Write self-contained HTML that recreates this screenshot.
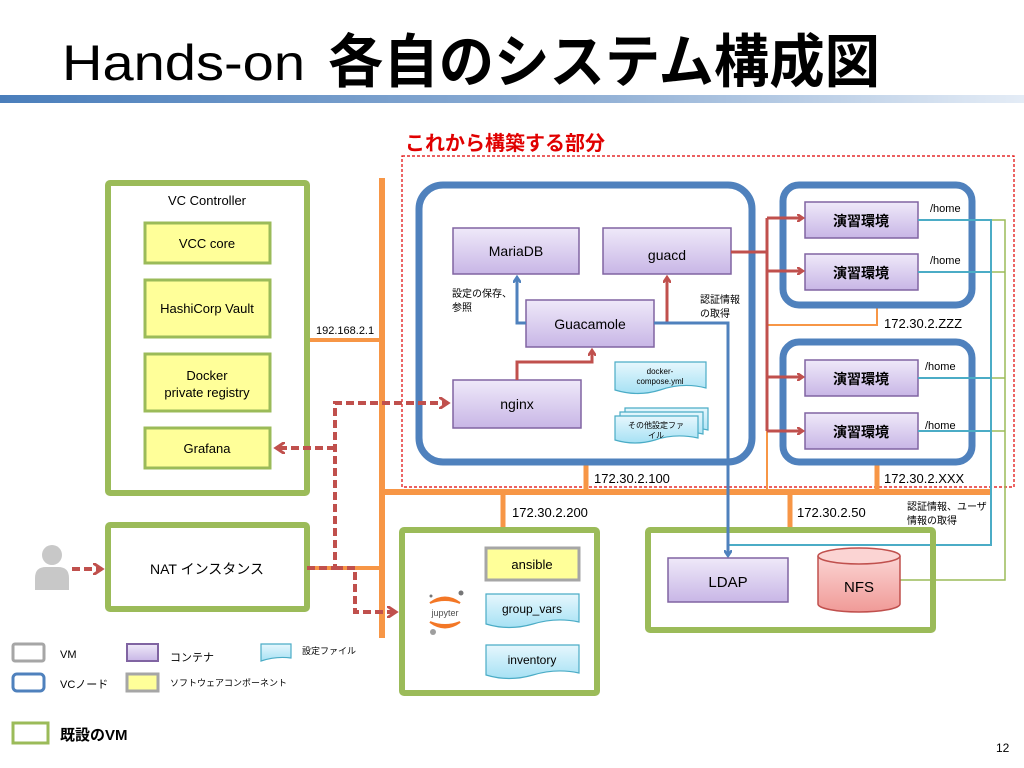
<!DOCTYPE html>
<html><head><meta charset="utf-8"><style>
html,body{margin:0;padding:0;background:#fff;}
svg{display:block;}
text{font-family:"Liberation Sans","Noto Sans CJK JP",sans-serif;}
</style></head><body>
<svg width="1024" height="768" viewBox="0 0 1024 768" xmlns="http://www.w3.org/2000/svg">
<defs>
<linearGradient id="bar" x1="0" x2="1" y1="0" y2="0"><stop offset="0" stop-color="#4a7ebb"/><stop offset="0.6" stop-color="#95b3d7"/><stop offset="1" stop-color="#e4ecf6"/></linearGradient>
<linearGradient id="pur" x1="0" x2="0" y1="0" y2="1"><stop offset="0" stop-color="#efe9f9"/><stop offset="1" stop-color="#c8b6e6"/></linearGradient>
<linearGradient id="cy" x1="0" x2="0" y1="0" y2="1"><stop offset="0" stop-color="#e6f7fd"/><stop offset="1" stop-color="#a6e1f4"/></linearGradient>
<linearGradient id="nfs" x1="0" x2="0" y1="0" y2="1"><stop offset="0" stop-color="#fbd4d3"/><stop offset="1" stop-color="#f09a97"/></linearGradient>
<marker id="ar" markerWidth="8" markerHeight="8" refX="6" refY="4" orient="auto" markerUnits="userSpaceOnUse"><path d="M0,0 L6,4 L0,8" fill="none" stroke="#c0504d" stroke-width="2.5"/></marker>
<marker id="ab" markerWidth="8" markerHeight="8" refX="6" refY="4" orient="auto" markerUnits="userSpaceOnUse"><path d="M0,0 L6,4 L0,8" fill="none" stroke="#4f81bd" stroke-width="2.5"/></marker>
<marker id="ad" markerWidth="12" markerHeight="12" refX="9" refY="6" orient="auto" markerUnits="userSpaceOnUse"><path d="M0,0 L9,6 L0,12" fill="none" stroke="#c0504d" stroke-width="3"/></marker>
</defs>

<!-- title -->
<text x="62" y="80" font-size="50" fill="#000" textLength="243" lengthAdjust="spacingAndGlyphs">Hands-on</text>
<text x="328" y="82" font-size="58" font-weight="bold" fill="#000" textLength="552" lengthAdjust="spacingAndGlyphs">各自のシステム構成図</text>
<rect x="0" y="95" width="1024" height="8" fill="url(#bar)"/>

<text x="405" y="150" font-size="20" font-weight="bold" fill="#e00000">これから構築する部分</text>
<rect x="402" y="156" width="612" height="331" fill="none" stroke="#e00000" stroke-width="1.2" stroke-dasharray="3,2"/>

<path d="M877,305 V325 H767 V492" fill="none" stroke="#f79646" stroke-width="2"/>

<g stroke="#f79646" fill="none">
<line x1="382" y1="178" x2="382" y2="638" stroke-width="6"/>
<line x1="382" y1="492" x2="991" y2="492" stroke-width="6"/>
<line x1="307" y1="340" x2="382" y2="340" stroke-width="4"/>
<line x1="307" y1="568" x2="382" y2="568" stroke-width="4"/>
<line x1="586" y1="462" x2="586" y2="492" stroke-width="5"/>
<line x1="503" y1="492" x2="503" y2="530" stroke-width="5"/>
<line x1="790" y1="492" x2="790" y2="530" stroke-width="5"/>
<line x1="877" y1="462" x2="877" y2="492" stroke-width="5"/>
</g>
<g font-size="13" fill="#000">
<text x="316" y="334" font-size="11">192.168.2.1</text>
<text x="594" y="483">172.30.2.100</text>
<text x="512" y="517">172.30.2.200</text>
<text x="797" y="517">172.30.2.50</text>
<text x="884" y="483">172.30.2.XXX</text>
<text x="884" y="328">172.30.2.ZZZ</text>
</g>

<rect x="108" y="183" width="199" height="310" fill="#fff" stroke="#9bbb59" stroke-width="6" rx="2"/>
<text x="207" y="205" font-size="13" text-anchor="middle">VC Controller</text>
<g fill="#ffff99" stroke="#9bbb59" stroke-width="3">
<rect x="145" y="223" width="125" height="40"/>
<rect x="145" y="280" width="125" height="57"/>
<rect x="145" y="354" width="125" height="57"/>
<rect x="145" y="428" width="125" height="40"/>
</g>
<g font-size="13" text-anchor="middle">
<text x="207" y="248">VCC core</text>
<text x="207" y="313">HashiCorp Vault</text>
<text x="207" y="380">Docker</text>
<text x="207" y="397">private registry</text>
<text x="207" y="453">Grafana</text>
</g>

<rect x="108" y="525" width="199" height="84" fill="#fff" stroke="#9bbb59" stroke-width="6" rx="2"/>
<text x="207" y="574" font-size="14" text-anchor="middle">NAT インスタンス</text>
<g fill="#c8c8c8">
<circle cx="52" cy="555" r="10"/>
<path d="M35,590 V578 Q35,567 46,567 H58 Q69,567 69,578 V590 Z"/>
</g>

<rect x="419" y="185" width="333" height="277" rx="24" fill="#fff" stroke="#4f81bd" stroke-width="7"/>
<g fill="url(#pur)" stroke="#8064a2" stroke-width="1.5">
<rect x="453" y="228" width="126" height="46"/>
<rect x="603" y="228" width="128" height="46"/>
<rect x="526" y="300" width="128" height="47"/>
<rect x="453" y="380" width="128" height="48"/>
</g>
<g font-size="14" text-anchor="middle">
<text x="516" y="256">MariaDB</text>
<text x="667" y="260">guacd</text>
<text x="590" y="329">Guacamole</text>
<text x="517" y="409">nginx</text>
</g>
<path d="M526,323 H517 V277" fill="none" stroke="#4f81bd" stroke-width="3" marker-end="url(#ab)"/>
<path d="M654,323 H667 V277" fill="none" stroke="#c0504d" stroke-width="3" marker-end="url(#ar)"/>
<path d="M517,380 V362 H592 V350" fill="none" stroke="#c0504d" stroke-width="3" marker-end="url(#ar)"/>
<g font-size="10">
<text x="452" y="297">設定の保存、</text><text x="452" y="311">参照</text>
<text x="700" y="303">認証情報</text><text x="700" y="317">の取得</text>
</g>
<path d="M615,362 H706 V388 Q683,382 660,390 Q638,397 615,390 Z" fill="url(#cy)" stroke="#4bacc6" stroke-width="1.2"/>
<text x="660" y="374" font-size="8" text-anchor="middle">docker-</text>
<text x="660" y="384" font-size="8" text-anchor="middle">compose.yml</text>
<g fill="url(#cy)" stroke="#4bacc6" stroke-width="1.2">
<path d="M625,408 H708 V430 Q685,425 665,432 Q645,438 625,432 Z"/>
<path d="M620,412 H703 V434 Q680,429 660,436 Q640,442 620,436 Z"/>
<path d="M615,416 H698 V438 Q675,433 655,440 Q635,446 615,440 Z"/>
</g>
<text x="656" y="428" font-size="8" text-anchor="middle">その他設定ファ</text>
<text x="656" y="438" font-size="8" text-anchor="middle">イル</text>

<rect x="783" y="185" width="189" height="120" rx="16" fill="#fff" stroke="#4f81bd" stroke-width="7"/>
<rect x="783" y="342" width="189" height="120" rx="16" fill="#fff" stroke="#4f81bd" stroke-width="7"/>
<g fill="url(#pur)" stroke="#8064a2" stroke-width="1.5">
<rect x="805" y="202" width="113" height="36"/>
<rect x="805" y="254" width="113" height="36"/>
<rect x="805" y="360" width="113" height="36"/>
<rect x="805" y="413" width="113" height="36"/>
</g>
<g font-size="14" text-anchor="middle" font-weight="bold">
<text x="861" y="226">演習環境</text>
<text x="861" y="278">演習環境</text>
<text x="861" y="384">演習環境</text>
<text x="861" y="437">演習環境</text>
</g>
<g font-size="11">
<text x="930" y="212">/home</text>
<text x="930" y="264">/home</text>
<text x="925" y="370">/home</text>
<text x="925" y="429">/home</text>
</g>
<g fill="none" stroke="#c0504d" stroke-width="3">
<path d="M731,252 H767"/>
<line x1="767" y1="218" x2="767" y2="431"/>
<line x1="767" y1="218" x2="803" y2="218" marker-end="url(#ar)"/>
<line x1="767" y1="271" x2="803" y2="271" marker-end="url(#ar)"/>
<line x1="767" y1="377" x2="803" y2="377" marker-end="url(#ar)"/>
<line x1="767" y1="431" x2="803" y2="431" marker-end="url(#ar)"/>
</g>
<g fill="none" stroke="#9bbb59" stroke-width="1.5">
<path d="M991,220 H1005 V580 H900"/>
<path d="M991,272 H1005"/><path d="M991,378 H1005"/><path d="M991,431 H1005"/>
</g>
<g fill="none" stroke="#4bacc6" stroke-width="2">
<path d="M918,220 H991 V545 H728"/>
<path d="M918,272 H991"/><path d="M918,378 H991"/><path d="M918,431 H991"/>
</g>
<text x="907" y="510" font-size="10">認証情報、ユーザ</text>
<text x="907" y="524" font-size="10">情報の取得</text>

<rect x="648" y="530" width="285" height="100" fill="none" stroke="#9bbb59" stroke-width="6" rx="2"/>
<path d="M654,323 H728 V556" fill="none" stroke="#4f81bd" stroke-width="3" marker-end="url(#ab)"/>
<rect x="668" y="558" width="120" height="44" fill="url(#pur)" stroke="#8064a2" stroke-width="1.5"/>
<text x="728" y="587" font-size="15" text-anchor="middle">LDAP</text>
<path d="M818,556 V604 A41,8 0 0 0 900,604 V556" fill="url(#nfs)" stroke="#c0504d" stroke-width="1.5"/>
<ellipse cx="859" cy="556" rx="41" ry="8" fill="#fbd4d3" stroke="#c0504d" stroke-width="1.5"/>
<text x="859" y="592" font-size="15" text-anchor="middle">NFS</text>

<rect x="402" y="530" width="195" height="163" fill="#fff" stroke="#9bbb59" stroke-width="6" rx="2"/>
<rect x="486" y="548" width="93" height="32" fill="#ffff99" stroke="#a6a6a6" stroke-width="3"/>
<text x="532" y="569" font-size="13" text-anchor="middle">ansible</text>
<path d="M486,594 H579 V622 Q556,617 533,624 Q509,631 486,624 Z" fill="url(#cy)" stroke="#4bacc6" stroke-width="1.2"/>
<text x="532" y="613" font-size="12" text-anchor="middle">group_vars</text>
<path d="M486,645 H579 V673 Q556,668 533,675 Q509,682 486,675 Z" fill="url(#cy)" stroke="#4bacc6" stroke-width="1.2"/>
<text x="532" y="664" font-size="12" text-anchor="middle">inventory</text>
<path d="M430,603 Q445,592 460,603 Q445,597 430,603 Z" fill="#f37726" stroke="#f37726" stroke-width="2"/>
<path d="M430,622 Q445,633 460,622 Q445,628 430,622 Z" fill="#f37726" stroke="#f37726" stroke-width="2"/>
<circle cx="461" cy="593" r="2.5" fill="#767677"/>
<circle cx="431" cy="596" r="1.5" fill="#767677"/>
<circle cx="433" cy="632" r="3" fill="#9e9e9e"/>
<text x="445" y="616" font-size="9" text-anchor="middle" fill="#4e4e4e">jupyter</text>

<!-- dashed red (on top) -->
<g fill="none" stroke="#c0504d" stroke-width="4" stroke-dasharray="8,4">
<line x1="72" y1="569" x2="102" y2="569" marker-end="url(#ad)"/>
<path d="M307,568 H335 V403 H448" marker-end="url(#ad)"/>
<path d="M335,448 H276" marker-end="url(#ad)"/>
<path d="M335,568 H355 V612 H396" marker-end="url(#ad)"/>
</g>

<rect x="13" y="644" width="31" height="17" rx="2" fill="#fff" stroke="#a6a6a6" stroke-width="3"/>
<text x="60" y="658" font-size="11">VM</text>
<rect x="127" y="644" width="31" height="17" fill="url(#pur)" stroke="#8064a2" stroke-width="2"/>
<text x="170" y="661" font-size="11">コンテナ</text>
<path d="M261,644 H291 V658 Q276,656 261,661 Z" fill="url(#cy)" stroke="#4bacc6" stroke-width="1.2"/>
<text x="302" y="654" font-size="9">設定ファイル</text>
<rect x="13" y="674" width="31" height="17" rx="4" fill="#fff" stroke="#4f81bd" stroke-width="3"/>
<text x="60" y="688" font-size="11">VCノード</text>
<rect x="127" y="674" width="31" height="17" fill="#ffff99" stroke="#a6a6a6" stroke-width="3"/>
<text x="170" y="686" font-size="9">ソフトウェアコンポーネント</text>
<rect x="13" y="723" width="35" height="20" fill="#fff" stroke="#9bbb59" stroke-width="3"/>
<text x="60" y="740" font-size="15" font-weight="bold">既設のVM</text>
<text x="996" y="752" font-size="12">12</text>
</svg>
</body></html>
